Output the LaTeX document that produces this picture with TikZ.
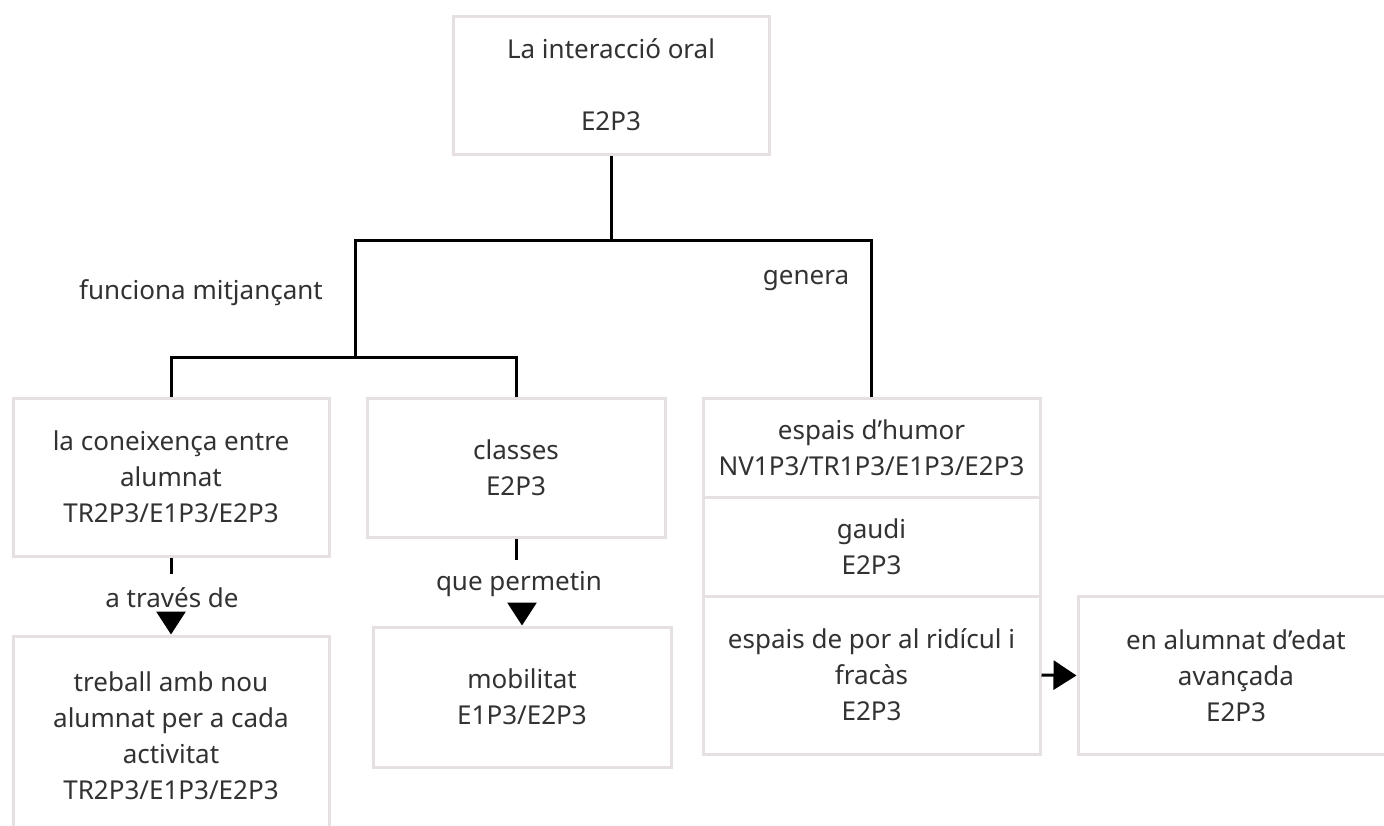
\documentclass[tikz,border=0pt]{standalone}
\usepackage{fontspec}
\setmainfont{Noto Sans}
\usetikzlibrary{arrows.meta}
\definecolor{boxline}{RGB}{230,224,227}
\definecolor{txt}{RGB}{50,50,50}
\tikzset{
  box/.style={draw=boxline, line width=3pt, fill=white, align=center, text=txt,
    font=\fontsize{26}{36}\selectfont, inner sep=0pt},
  lbl/.style={text=txt, font=\fontsize{26}{36}\selectfont, inner sep=0pt},
  conn/.style={draw=black, line width=3pt},
  arr/.style={conn, -{Triangle[length=23pt,width=29pt]}}
}
\begin{document}
\begin{tikzpicture}[x=1pt,y=-1pt]
\useasboundingbox (0,0) rectangle (1384,825);
\clip (0,0) rectangle (1384,825);
% boxes
\node[box, minimum width=316pt, minimum height=138pt] (top) at (611,85) {La interacció oral\\[36pt]E2P3};
\node[box, minimum width=316pt, minimum height=158pt] (A) at (171,477) {la coneixença entre\\alumnat\\TR2P3/E1P3/E2P3};
\node[box, minimum width=298pt, minimum height=139pt] (B) at (516,468) {classes\\E2P3};
\node[box, minimum width=337pt, minimum height=99pt] (C1) at (871.5,448) {espais d’humor\\NV1P3/TR1P3/E1P3/E2P3};
\node[box, minimum width=337pt, minimum height=99pt] (C2) at (871.5,546.5) {gaudi\\E2P3};
\node[box, minimum width=337pt, minimum height=158pt] (C3) at (871.5,675) {espais de por al ridícul i\\fracàs\\E2P3};
\node[box, minimum width=316pt, minimum height=200pt] (D) at (171,736) {treball amb nou\\alumnat per a cada\\activitat\\TR2P3/E1P3/E2P3};
\node[box, minimum width=298pt, minimum height=140pt] (E) at (522,697) {mobilitat\\E1P3/E2P3};
\node[box, minimum width=316pt, minimum height=158pt] (F) at (1236,675.5) {en alumnat d’edat\\avançada\\E2P3};
% labels
\node[lbl] (lfun) at (201,293) {funciona mitjançant};
\node[lbl] (lgen) at (806,281) {genera};
\node[lbl] (latr) at (172,598) {a través de};
\node[lbl] (lper) at (519,584) {que permetin};
% tree connectors
\coordinate (j1) at (611,240);
\coordinate (j2) at (355,357);
\draw[conn] (top.south) -- (j1);
\draw[conn] (j2) -- (j2 |- j1) -| (C1.north);
\draw[conn] (A.north) |- (j2) -| (B.north);
% labelled arrows
\draw[conn] (A.south) -- ++(0,16);
\draw[arr] ([yshift=20pt]D.north) -- (D.north);
\draw[conn] (B.south) -- ++(0,21);
\draw[arr] ([yshift=21pt]E.north) -- (E.north);
\draw[arr] (C3.east) -- (F.west);
\end{tikzpicture}
\end{document}
